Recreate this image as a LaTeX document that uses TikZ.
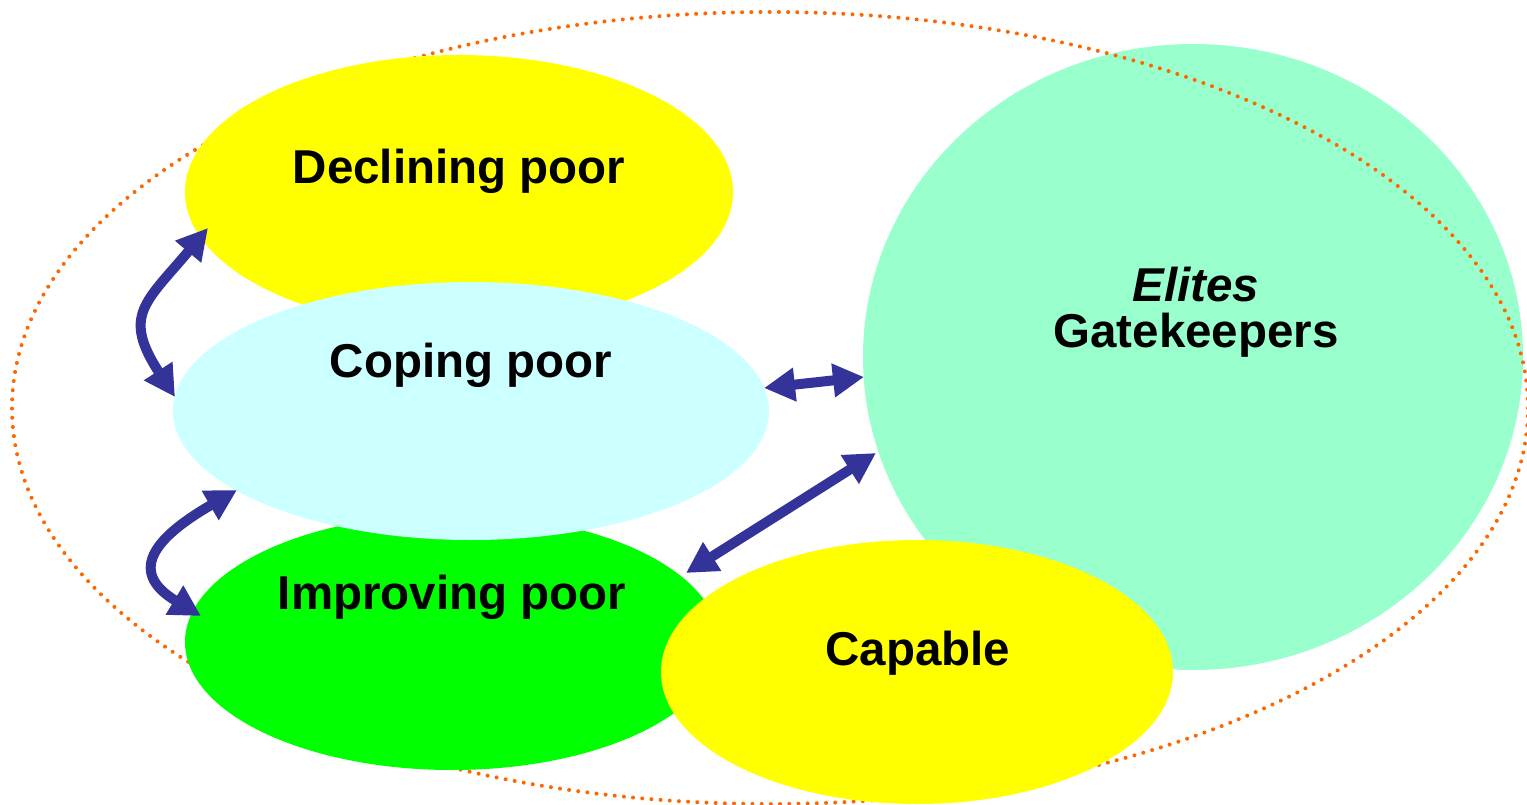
\documentclass[tikz,border=0pt]{standalone}
\usepackage{fontspec}
\setmainfont{Liberation Sans}
\usetikzlibrary{shapes.geometric,arrows.meta,calc}
\definecolor{elitesc}{HTML}{99FFCC}
\definecolor{copingc}{HTML}{CCFFFF}
\definecolor{improvc}{HTML}{00FF00}
\definecolor{yellowc}{HTML}{FFFF00}
\definecolor{arrowc}{HTML}{333399}
\definecolor{dotc}{HTML}{FF6600}
\definecolor{navyc}{HTML}{242490}
\tikzset{
  blob/.style={ellipse, draw=none, inner sep=0pt, outer sep=0pt},
  lbl/.style={font=\fontsize{47.5}{46}\selectfont\bfseries, inner sep=0pt, align=center},
  dblarrow/.style={draw=arrowc, line width=10pt, {Triangle[length=31pt,width=32pt]}-{Triangle[length=31pt,width=32pt]}},
  dotring/.style={draw=dotc, line width=4pt, line cap=round, dash pattern=on 0pt off 9.2pt}
}
\begin{document}
\begin{tikzpicture}[x=1pt,y=1pt]
\useasboundingbox (0,0) rectangle (1527,-805);
% corner decoration
\fill[navyc] (0,0) -- (26,0) to[bend left=10] (0,13) -- cycle;
% elites circle
\node[blob, fill=elitesc, minimum width=660pt, minimum height=626pt] (elites) at (1193,-357) {};
% dotted ring
\draw[dotring] (770,-408) ellipse [x radius=758, y radius=396];
% other ellipses
\node[blob, fill=yellowc, minimum width=548pt, minimum height=274pt] (decl) at (459,-192) {};
\node[blob, fill=improvc, minimum width=534pt, minimum height=256pt] (impr) at (452,-642) {};
\node[blob, fill=copingc, minimum width=596pt, minimum height=258pt] (coping) at (471,-411) {};
\node[blob, fill=yellowc, minimum width=512pt, minimum height=264pt] (capable) at (917,-672) {};
% labels
\node[lbl] (tdecl) at (459,-171) {Declining poor};
\node[lbl] (tcoping) at (471,-365) {Coping poor};
\node[lbl] (timpr) at (452,-597) {Improving poor};
\node[lbl] (tcap) at (918,-653) {Capable};
\node[lbl] (telites) at (1196,-312) {\itshape Elites\\Gatekeepers};
% arrow end points on the ellipses
\coordinate (a1s) at ($(decl.center)+(-251,-36)$);
\coordinate (a1e) at ($(coping.center)+(-296,14)$);
\coordinate (a2s) at ($(coping.center)+(-234,-79)$);
\coordinate (a2e) at ($(impr.center)+(-251,26)$);
\coordinate (a3s) at ($(coping.center)+(293,23)$);
\coordinate (a3e) at ($(elites.center)+(-329,-20)$);
\coordinate (a4s) at ($(impr.center)+(234,69)$);
\coordinate (a4e) at ($(elites.center)+(-317,-96)$);
% arrows
\draw[dblarrow] (a1s) to[out=230,in=123,looseness=1.45] (a1e);
\draw[dblarrow] (a2s) to[out=210,in=149,looseness=1.75] (a2e);
\draw[dblarrow] (a3s) -- (a3e);
\draw[dblarrow] (a4s) -- (a4e);
\end{tikzpicture}
\end{document}
